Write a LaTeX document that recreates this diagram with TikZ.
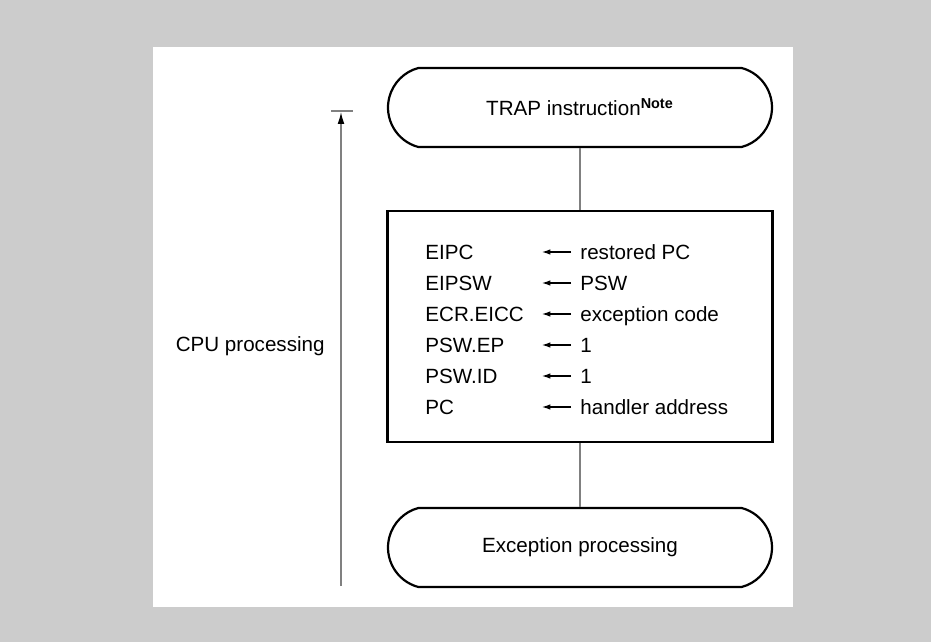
\documentclass[tikz,border=0pt]{standalone}
\usepackage{fontspec}
\setmainfont{Liberation Sans}
\usetikzlibrary{arrows.meta,positioning,shapes.misc}
\definecolor{bggray}{HTML}{CCCCCC}
\definecolor{linegray}{HTML}{808080}

\begin{document}
\begin{tikzpicture}[x=0.5pt,y=-0.5pt,font=\fontsize{10.3}{12}\selectfont,
	term/.style={draw,line width=1.1pt,rounded rectangle,rounded rectangle arc length=150,
		minimum width=192pt,minimum height=39.5pt,inner sep=0pt},
	regbox/.style={draw,line width=1.1pt,minimum width=192.5pt,minimum height=115.5pt,inner sep=0pt},
	link/.style={draw=linegray,line width=0.65pt},
	rowtxt/.style={anchor=west,inner ysep=0pt,text height=7.3pt,text depth=0pt},
	asgn/.style={-{Latex[length=4.2pt,width=2.8pt]},line width=0.55pt}]
		\useasboundingbox (0,0) rectangle (931,642);
		\fill[bggray] (0,0) rectangle (931,642);
		\fill[white] (153,47) rectangle (793,607);
		\node[term] (trap) at (580,107.5) {TRAP instruction\textsuperscript{\bfseries Note}};
		\node[regbox] (upd) at (580,326.5) {};
		\node[term] (exc) at (580,547.5) {Exception processing};
		\draw[link] (trap.south) -- (upd.north);
		\draw[link] (upd.south) -- (exc.north);
		\foreach \reg/\val [count=\i] in {EIPC/restored PC,EIPSW/PSW,ECR.EICC/exception code,
			PSW.EP/1,PSW.ID/1,PC/handler address}{
			\node[rowtxt,inner xsep=0pt] (reg\i) at (425,221+31*\i) {\reg};
			\node[rowtxt,inner xsep=4.5pt] (val\i) at (571,221+31*\i) {\val};
			\coordinate (tip\i) at (542,221+31*\i);
			\draw[asgn] (val\i) -- (tip\i);
		}
		\node[anchor=east,inner sep=0pt] (cpu) at (325,346) {CPU processing};
		\coordinate (cpubot) at (341,586);
		\coordinate (cputop) at (341,112);
		\coordinate (barl) at (331,111);
		\coordinate (barr) at (353,111);
		\draw[link,-{Latex[black,length=6pt,width=3.4pt]}] (cpubot) -- (cputop);
		\draw[link] (barl) -- (barr);
	\end{tikzpicture}
\end{document}
